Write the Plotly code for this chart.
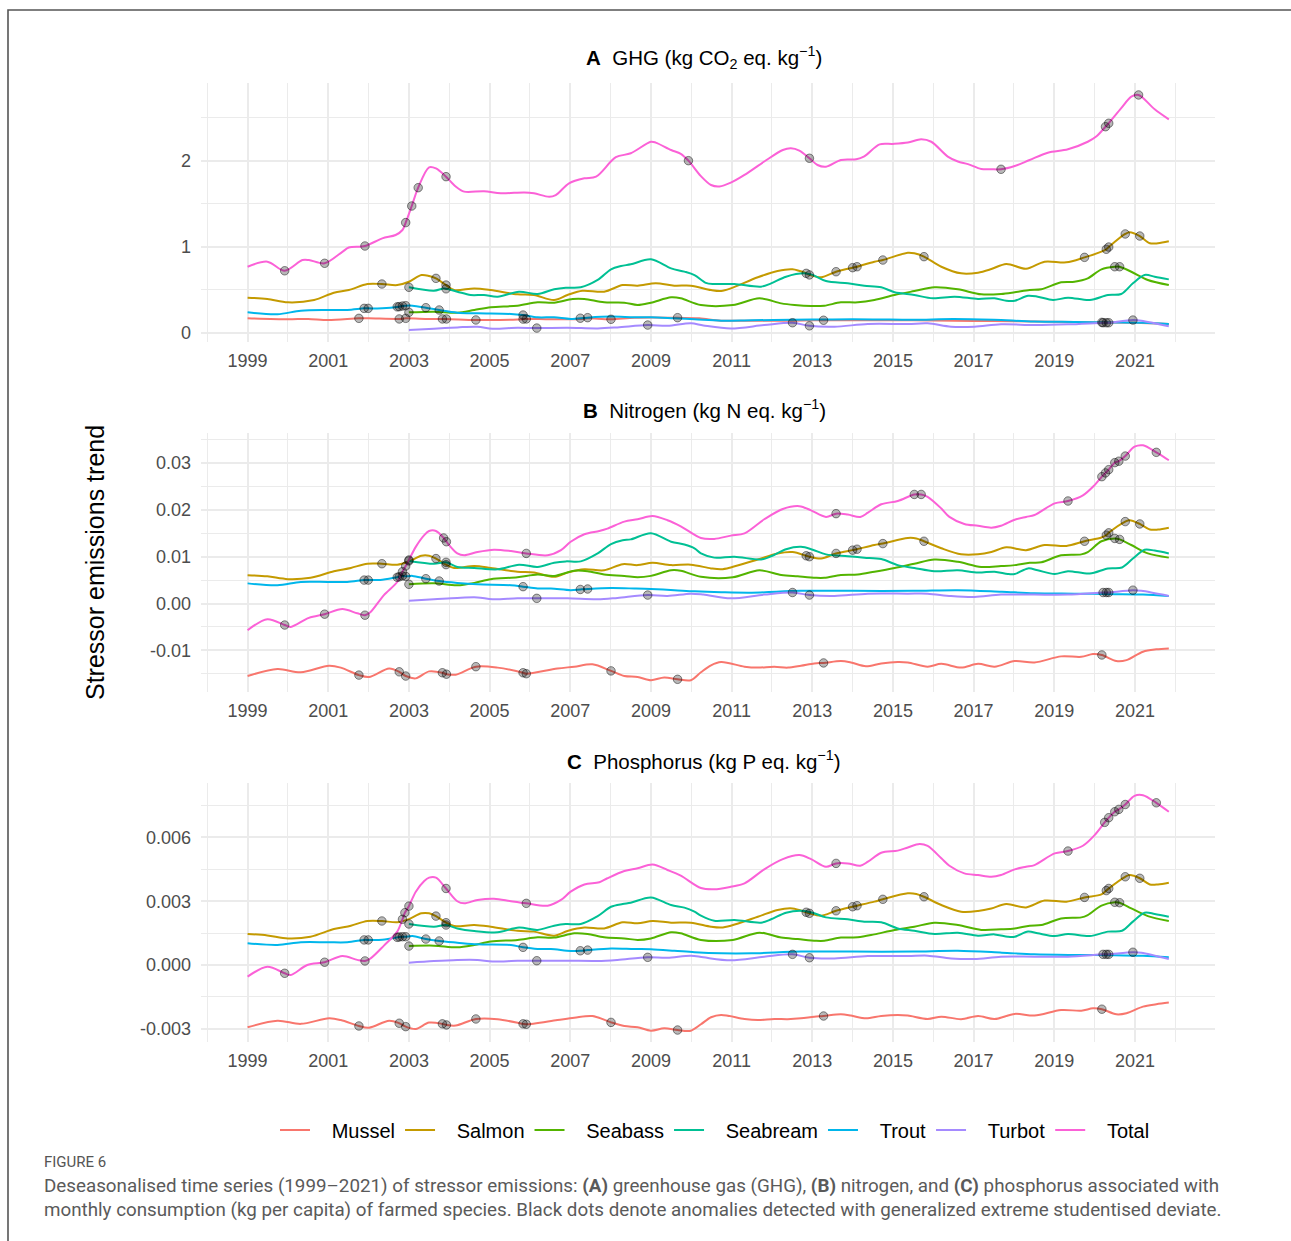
import numpy as np
import plotly.graph_objects as go

# ---------------------------------------------------------------------------
# Series names and ggplot-style hue colours
# ---------------------------------------------------------------------------
SPECIES = ["Mussel", "Salmon", "Seabass", "Seabream", "Trout", "Turbot", "Total"]
COLORS = ["#F8766D", "#C49A00", "#53B400", "#00C094", "#00B6EB", "#A58AFF", "#FB61D7"]

# ---------------------------------------------------------------------------
# A  GHG trend (kg CO2 eq. per kg)
# ---------------------------------------------------------------------------
ghg_mussel_t = [1999.0, 2000.0, 2000.5, 2001.0, 2001.76, 2002.0, 2002.76, 2002.92, 2003.5, 2003.9,
                2004.66, 2005.5, 2005.9, 2006.5, 2007.25, 2007.43, 2008.01, 2008.6, 2009.66, 2010.2,
                2010.74, 2011.5, 2012.5, 2013.28, 2014.5, 2015.5, 2016.5, 2017.5, 2018.5, 2019.5,
                2020.18, 2021.0, 2021.84]
ghg_mussel_v = [0.167, 0.156, 0.16, 0.148, 0.167, 0.167, 0.16, 0.167, 0.16, 0.16,
                0.148, 0.15, 0.16, 0.156, 0.16, 0.167, 0.156, 0.175, 0.175, 0.167,
                0.14, 0.14, 0.14, 0.145, 0.145, 0.145, 0.14, 0.135, 0.13, 0.125,
                0.12, 0.115, 0.10]

ghg_salmon_t = [1999.0, 1999.49, 2000.0, 2000.65, 2001.14, 2001.51, 2001.97, 2002.33, 2002.71, 2003.0,
                2003.31, 2003.5, 2003.67, 2003.92, 2004.12, 2004.62, 2005.03, 2005.69, 2006.10, 2006.60,
                2006.93, 2007.30, 2007.84, 2008.30, 2008.67, 2009.12, 2009.58, 2009.99, 2010.49, 2010.74,
                2010.98, 2011.65, 2012.14, 2012.51, 2012.85, 2012.93, 2013.22, 2013.59, 2014.0, 2014.11,
                2014.54, 2014.75, 2015.37, 2015.53, 2015.77, 2016.20, 2016.69, 2017.11, 2017.44, 2017.81,
                2018.30, 2018.76, 2019.30, 2019.75, 2020.17, 2020.29, 2020.35, 2020.76, 2020.87, 2021.12,
                2021.37, 2021.57, 2021.84]
ghg_salmon_v = [0.407, 0.393, 0.353, 0.38, 0.465, 0.496, 0.566, 0.566, 0.554, 0.593,
                0.671, 0.66, 0.632, 0.554, 0.496, 0.515, 0.496, 0.446, 0.438, 0.38,
                0.438, 0.488, 0.477, 0.554, 0.547, 0.574, 0.547, 0.547, 0.496, 0.485,
                0.515, 0.644, 0.717, 0.737, 0.69, 0.672, 0.644, 0.709, 0.756, 0.767,
                0.826, 0.845, 0.93, 0.923, 0.884, 0.767, 0.69, 0.698, 0.74, 0.80,
                0.744, 0.826, 0.818, 0.876, 0.942, 0.97, 0.996, 1.148, 1.167, 1.124,
                1.04, 1.04, 1.063]

ghg_seabass_t = [2003.0, 2003.62, 2004.20, 2004.62, 2005.03, 2005.69, 2006.19, 2006.60, 2007.06, 2007.35,
                 2007.84, 2008.34, 2008.67, 2009.0, 2009.50, 2009.74, 2010.24, 2011.03, 2011.69, 2012.23,
                 2012.56, 2012.97, 2013.30, 2013.71, 2014.13, 2014.54, 2015.04, 2015.53, 2016.03, 2016.61,
                 2017.19, 2017.68, 2018.02, 2018.39, 2018.68, 2019.17, 2019.50, 2019.83, 2020.17, 2020.50,
                 2020.62, 2020.91, 2021.32, 2021.84]
ghg_seabass_v = [0.237, 0.245, 0.233, 0.264, 0.295, 0.314, 0.353, 0.349, 0.392, 0.392,
                 0.353, 0.349, 0.322, 0.349, 0.411, 0.40, 0.322, 0.322, 0.40, 0.341,
                 0.322, 0.31, 0.314, 0.353, 0.353, 0.38, 0.438, 0.484, 0.528, 0.505,
                 0.446, 0.45, 0.47, 0.496, 0.505, 0.586, 0.593, 0.632, 0.737, 0.767,
                 0.767, 0.709, 0.613, 0.554]

ghg_seabream_t = [2003.0, 2003.62, 2003.88, 2004.20, 2004.53, 2004.86, 2005.20, 2005.73, 2006.19, 2006.60,
                  2006.89, 2007.26, 2007.68, 2008.01, 2008.26, 2008.50, 2009.0, 2009.50, 2009.83, 2010.08,
                  2010.36, 2010.57, 2011.07, 2011.73, 2011.98, 2012.35, 2012.80, 2013.01, 2013.34, 2013.88,
                  2014.29, 2014.71, 2015.04, 2015.53, 2015.99, 2016.53, 2017.11, 2017.52, 2017.81, 2018.02,
                  2018.35, 2018.59, 2018.97, 2019.34, 2019.88, 2020.33, 2020.66, 2020.95, 2021.24, 2021.49,
                  2021.84]
ghg_seabream_v = [0.528, 0.488, 0.515, 0.477, 0.438, 0.438, 0.419, 0.477, 0.45, 0.505,
                  0.523, 0.528, 0.613, 0.737, 0.775, 0.795, 0.853, 0.748, 0.71, 0.67,
                  0.58, 0.566, 0.566, 0.535, 0.574, 0.651, 0.69, 0.672, 0.601, 0.574,
                  0.547, 0.528, 0.47, 0.438, 0.40, 0.419, 0.393, 0.40, 0.372, 0.372,
                  0.43, 0.419, 0.38, 0.407, 0.38, 0.438, 0.45, 0.574, 0.671, 0.651,
                  0.62]

ghg_trout_t = [1999.0, 1999.74, 2000.32, 2000.98, 2001.47, 2001.89, 2001.99, 2002.34, 2002.76, 2002.84,
               2002.92, 2003.09, 2003.42, 2003.75, 2004.2, 2004.7, 2005.53, 2005.82, 2006.19, 2006.6,
               2007.01, 2007.43, 2008.01, 2008.59, 2009.0, 2009.58, 2010.08, 2010.74, 2011.5, 2012.5,
               2013.5, 2014.5, 2015.5, 2016.5, 2017.5, 2018.5, 2019.5, 2020.5, 2021.2, 2021.84]
ghg_trout_v = [0.237, 0.214, 0.256, 0.264, 0.264, 0.283, 0.283, 0.283, 0.303, 0.31,
               0.314, 0.314, 0.291, 0.264, 0.233, 0.225, 0.218, 0.206, 0.179, 0.179,
               0.16, 0.175, 0.187, 0.179, 0.179, 0.167, 0.156, 0.14, 0.145, 0.15,
               0.155, 0.155, 0.15, 0.16, 0.15, 0.13, 0.125, 0.12, 0.115, 0.10]

ghg_turbot_v = [0.031, 0.047, 0.062, 0.07, 0.047, 0.058, 0.054, 0.058, 0.05, 0.062,
                0.089, 0.08, 0.109, 0.085, 0.05, 0.089, 0.116, 0.08, 0.07, 0.101,
                0.101, 0.109, 0.07, 0.07, 0.097, 0.089, 0.097, 0.116, 0.116, 0.116,
                0.147, 0.14, 0.074]

ghg_total_t = [1999.0, 1999.49, 1999.92, 2000.36, 2000.52, 2000.91, 2001.35, 2001.51, 2001.91, 2002.34,
               2002.67, 2002.84, 2002.92, 2003.07, 2003.23, 2003.5, 2003.67, 2003.92, 2004.16, 2004.37,
               2004.86, 2005.28, 2005.86, 2006.1, 2006.48, 2006.64, 2006.97, 2007.35, 2007.64, 2008.13,
               2008.5, 2009.0, 2009.12, 2009.5, 2009.74, 2009.93, 2010.24, 2010.49, 2010.70, 2010.98,
               2011.32, 2011.81, 2012.27, 2012.47, 2012.68, 2012.93, 2013.13, 2013.34, 2013.71, 2014.09,
               2014.29, 2014.67, 2015.0, 2015.37, 2015.70, 2015.95, 2016.36, 2016.61, 2016.86, 2017.19,
               2017.44, 2017.68, 2018.02, 2018.39, 2018.84, 2019.34, 2019.83, 2020.04, 2020.27, 2020.35,
               2020.66, 2020.91, 2021.09, 2021.49, 2021.84]
ghg_total_v = [0.767, 0.826, 0.72, 0.845, 0.845, 0.807, 0.94, 0.99, 1.008, 1.097,
               1.136, 1.194, 1.28, 1.473, 1.686, 1.923, 1.91, 1.814, 1.70, 1.64,
               1.645, 1.621, 1.63, 1.62, 1.58, 1.60, 1.737, 1.795, 1.814, 2.04,
               2.086, 2.22, 2.21, 2.124, 2.08, 2.0, 1.82, 1.717, 1.70, 1.744,
               1.834, 1.99, 2.124, 2.144, 2.117, 2.028, 1.95, 1.93, 2.008, 2.016,
               2.05, 2.19, 2.195, 2.21, 2.248, 2.22, 2.047, 1.99, 1.96, 1.903,
               1.90, 1.90, 1.938, 2.008, 2.093, 2.132, 2.22, 2.28, 2.395, 2.435,
               2.61, 2.744, 2.764, 2.597, 2.48]

# ---------------------------------------------------------------------------
# Shared sampling dates
# ---------------------------------------------------------------------------
mussel_t = [1999.0, 1999.74, 2000.32, 2001.02, 2001.31, 2001.76, 2002.01, 2002.51, 2002.76, 2002.92,
            2003.17, 2003.50, 2003.83, 2003.93, 2004.16, 2004.66, 2005.20, 2005.83, 2005.91, 2006.68,
            2007.10, 2007.55, 2008.01, 2008.34, 2008.67, 2009.0, 2009.33, 2009.66, 2009.99, 2010.24,
            2010.49, 2010.74, 2011.32, 2011.65, 2012.06, 2012.39, 2012.72, 2013.05, 2013.28, 2013.71,
            2013.96, 2014.33, 2014.71, 2015.12, 2015.37, 2015.86, 2016.20, 2016.69, 2017.11, 2017.52,
            2018.02, 2018.51, 2019.17, 2019.67, 2019.96, 2020.18, 2020.54, 2020.79, 2021.20, 2021.53,
            2021.84]
salmon_t = [1999.0, 1999.49, 2000.0, 2000.56, 2001.14, 2001.56, 2001.97, 2002.33, 2002.71, 2003.0,
            2003.31, 2003.50, 2003.67, 2003.92, 2004.12, 2004.62, 2005.03, 2005.69, 2006.10, 2006.60,
            2006.93, 2007.35, 2007.84, 2008.30, 2008.67, 2009.04, 2009.50, 2009.99, 2010.49, 2010.74,
            2010.98, 2011.65, 2012.14, 2012.51, 2012.85, 2012.93, 2013.22, 2013.59, 2014.0, 2014.11,
            2014.54, 2014.75, 2015.37, 2015.58, 2015.77, 2016.20, 2016.69, 2017.11, 2017.44, 2017.81,
            2018.30, 2018.76, 2019.30, 2019.75, 2020.17, 2020.29, 2020.35, 2020.76, 2020.87, 2021.12,
            2021.37, 2021.57, 2021.84]
seabass_t = [2003.0, 2003.62, 2004.20, 2004.62, 2005.03, 2005.69, 2006.19, 2006.60, 2007.10, 2007.43,
             2007.84, 2008.34, 2008.67, 2009.0, 2009.50, 2009.74, 2010.24, 2011.03, 2011.69, 2012.23,
             2012.64, 2013.09, 2013.30, 2013.71, 2014.13, 2014.54, 2015.04, 2015.53, 2016.03, 2016.61,
             2017.19, 2017.68, 2018.02, 2018.39, 2018.68, 2019.17, 2019.67, 2019.83, 2020.17, 2020.50,
             2020.62, 2020.91, 2021.32, 2021.84]
seabream_t = [2003.0, 2003.62, 2003.92, 2004.20, 2004.62, 2005.20, 2005.73, 2006.19, 2006.60, 2006.89,
              2007.26, 2007.68, 2008.01, 2008.30, 2008.50, 2009.0, 2009.50, 2009.83, 2010.08, 2010.24,
              2010.57, 2011.07, 2011.73, 2011.98, 2012.35, 2012.72, 2013.01, 2013.34, 2013.88, 2014.29,
              2014.71, 2015.12, 2015.53, 2016.03, 2016.61, 2017.11, 2017.52, 2017.85, 2018.02, 2018.35,
              2018.59, 2019.01, 2019.34, 2019.88, 2020.33, 2020.68, 2020.95, 2021.24, 2021.49, 2021.84]
trout_t = [1999.0, 1999.74, 2000.32, 2000.98, 2001.47, 2001.89, 2001.99, 2002.34, 2002.71, 2002.76,
           2002.84, 2002.92, 2003.09, 2003.42, 2003.75, 2004.20, 2004.70, 2005.53, 2005.83, 2006.19,
           2006.52, 2007.01, 2007.25, 2007.43, 2008.01, 2008.59, 2009.0, 2009.58, 2010.08, 2010.74,
           2011.5, 2012.72, 2014.0, 2015.5, 2016.61, 2017.7, 2018.5, 2019.5, 2020.5, 2021.2,
           2021.84]
turbot_t = [2003.0, 2003.62, 2004.20, 2004.70, 2005.07, 2005.69, 2006.17, 2006.93, 2007.68, 2008.17,
            2008.92, 2009.41, 2009.99, 2010.30, 2010.98, 2011.81, 2012.51, 2012.93, 2013.55, 2014.38,
            2015.37, 2015.86, 2016.44, 2017.02, 2017.68, 2018.51, 2019.34, 2020.21, 2020.29, 2020.35,
            2020.95, 2021.16, 2021.84]

# Panels B and C values are listed in thousandths (g eq. per kg)
MILLI = 1e-3

# ---------------------------------------------------------------------------
# B  Nitrogen trend (kg N eq. per kg), in thousandths
# ---------------------------------------------------------------------------
nit_mussel_v = [-15.5, -14.0, -14.7, -13.3, -13.7, -15.3, -15.7, -13.9, -14.6, -15.5,
                -16.0, -14.5, -14.8, -15.1, -15.2, -13.5, -13.7, -14.8, -15.0, -13.9,
                -13.5, -13.0, -14.4, -15.5, -15.7, -16.4, -15.8, -16.2, -16.4, -14.7,
                -13.2, -12.5, -13.5, -13.7, -13.5, -13.7, -13.3, -12.8, -12.7, -12.3,
                -12.6, -13.4, -12.8, -12.5, -12.6, -13.5, -12.9, -13.7, -12.9, -13.5,
                -12.3, -12.6, -11.3, -11.4, -10.8, -11.0, -12.3, -12.1, -10.3, -9.8,
                -9.6]
nit_salmon_v = [6.05, 5.8, 5.2, 5.5, 6.9, 7.6, 8.5, 8.5, 8.3, 9.0,
                10.2, 10.2, 9.6, 8.3, 7.6, 8.0, 7.6, 6.8, 6.6, 5.7,
                6.6, 7.3, 7.1, 8.4, 8.2, 8.7, 8.2, 8.3, 7.5, 7.3,
                7.7, 9.4, 10.7, 11.0, 10.2, 10.0, 9.6, 10.7, 11.4, 11.6,
                12.5, 12.8, 14.0, 13.9, 13.3, 11.8, 10.5, 10.5, 11.0, 12.0,
                11.4, 12.5, 12.3, 13.3, 14.1, 14.6, 15.1, 17.5, 17.8, 17.0,
                15.8, 15.8, 16.2]
nit_seabass_v = [4.1, 4.3, 3.9, 4.4, 5.2, 5.6, 6.2, 5.9, 7.0, 6.9,
                 6.2, 5.9, 5.6, 5.9, 7.1, 7.0, 5.7, 5.6, 7.1, 6.1,
                 5.8, 5.5, 5.5, 6.1, 6.2, 6.8, 7.6, 8.5, 9.4, 8.9,
                 7.8, 8.0, 8.2, 8.7, 8.8, 10.3, 10.5, 11.0, 13.3, 13.9,
                 13.7, 12.5, 10.7, 9.8]
nit_seabream_v = [9.1, 8.5, 8.8, 7.8, 7.6, 7.3, 8.3, 7.8, 8.7, 9.0,
                  9.0, 10.7, 12.7, 13.5, 13.7, 15.0, 13.2, 12.6, 11.8, 10.7,
                  9.8, 10.0, 9.4, 10.1, 11.6, 12.1, 11.5, 10.5, 10.1, 9.8,
                  9.5, 8.2, 7.6, 6.9, 7.1, 6.6, 6.8, 6.3, 6.3, 7.5,
                  7.1, 6.3, 6.9, 6.4, 7.5, 7.7, 9.6, 11.5, 11.3, 10.7]
nit_trout_v = [4.3, 3.9, 4.6, 4.6, 4.6, 5.0, 5.0, 5.1, 5.6, 5.7,
               5.9, 5.8, 5.9, 5.3, 4.8, 4.4, 4.1, 3.9, 3.6, 3.2,
               3.2, 2.85, 3.0, 3.1, 3.3, 3.2, 3.1, 2.85, 2.6, 2.4,
               2.3, 2.7, 2.7, 2.7, 2.85, 2.5, 2.2, 2.1, 2.0, 1.9,
               1.6]
nit_turbot_v = [0.6, 0.9, 1.2, 1.3, 0.9, 1.1, 1.1, 1.1, 0.9, 1.2,
                1.8, 1.6, 2.1, 1.9, 1.1, 1.9, 2.35, 1.8, 1.6, 2.1,
                2.1, 2.1, 1.6, 1.4, 1.9, 1.9, 1.9, 2.35, 2.35, 2.35,
                2.85, 2.7, 1.6]
nit_total_t = [1999.0, 1999.49, 1999.92, 2000.07, 2000.52, 2000.91, 2001.35, 2001.72, 2001.91, 2002.05,
               2002.38, 2002.71, 2002.84, 2002.92, 2003.0, 2003.17, 2003.38, 2003.50, 2003.67, 2003.86,
               2003.93, 2004.20, 2004.37, 2004.70, 2005.11, 2005.53, 2005.91, 2006.44, 2006.77, 2007.01,
               2007.35, 2007.72, 2007.92, 2008.34, 2008.67, 2009.04, 2009.41, 2009.74, 2010.24, 2010.57,
               2010.98, 2011.32, 2011.81, 2012.27, 2012.68, 2012.97, 2013.34, 2013.59, 2013.88, 2014.19,
               2014.38, 2014.71, 2015.12, 2015.53, 2015.70, 2015.86, 2016.20, 2016.40, 2016.77, 2017.11,
               2017.44, 2017.68, 2018.02, 2018.30, 2018.51, 2019.01, 2019.34, 2019.71, 2020.0, 2020.18,
               2020.27, 2020.35, 2020.50, 2020.60, 2020.76, 2020.99, 2021.20, 2021.53, 2021.84]
nit_total_v = [-5.7, -3.35, -4.6, -5.0, -3.06, -2.28, -1.2, -2.1, -2.5, -1.8,
               1.8, 4.6, 6.8, 8.0, 9.3, 12.1, 14.6, 15.5, 15.5, 14.0,
               13.2, 10.7, 10.3, 11.0, 11.5, 11.2, 10.7, 10.3, 11.4, 13.2,
               14.8, 15.5, 16.0, 17.5, 18.0, 18.7, 17.8, 16.5, 14.0, 13.8,
               14.5, 15.0, 18.0, 20.2, 20.8, 19.9, 18.5, 19.2, 19.0, 18.5,
               19.4, 21.2, 21.9, 23.3, 23.3, 22.8, 20.3, 18.5, 17.0, 16.6,
               16.2, 16.6, 17.9, 18.5, 18.9, 21.4, 21.9, 23.1, 25.3, 27.1,
               27.9, 28.6, 30.1, 30.4, 31.5, 33.5, 33.8, 32.3, 30.6]

# ---------------------------------------------------------------------------
# C  Phosphorus trend (kg P eq. per kg), in thousandths
# ---------------------------------------------------------------------------
pho_mussel_v = [-2.93, -2.62, -2.77, -2.51, -2.59, -2.87, -2.95, -2.62, -2.74, -2.9,
                -3.01, -2.71, -2.77, -2.82, -2.85, -2.54, -2.55, -2.77, -2.79, -2.59,
                -2.48, -2.4, -2.7, -2.87, -2.93, -3.09, -2.98, -3.06, -3.09, -2.79,
                -2.46, -2.35, -2.54, -2.59, -2.54, -2.55, -2.51, -2.43, -2.4, -2.32,
                -2.38, -2.51, -2.4, -2.35, -2.38, -2.54, -2.43, -2.55, -2.4, -2.54,
                -2.3, -2.38, -2.12, -2.15, -2.04, -2.08, -2.32, -2.27, -1.96, -1.85,
                -1.77]
pho_salmon_v = [1.46, 1.39, 1.25, 1.33, 1.69, 1.85, 2.07, 2.07, 2.01, 2.16,
                2.43, 2.43, 2.3, 1.99, 1.83, 1.88, 1.8, 1.61, 1.57, 1.38,
                1.6, 1.76, 1.72, 2.01, 1.96, 2.07, 1.99, 1.99, 1.8, 1.76,
                1.85, 2.27, 2.59, 2.66, 2.48, 2.43, 2.32, 2.55, 2.74, 2.79,
                2.98, 3.09, 3.37, 3.34, 3.21, 2.82, 2.51, 2.54, 2.66, 2.87,
                2.71, 3.03, 2.98, 3.18, 3.32, 3.5, 3.6, 4.15, 4.23, 4.08,
                3.79, 3.79, 3.87]
pho_seabass_v = [0.89, 0.91, 0.83, 0.94, 1.1, 1.18, 1.3, 1.29, 1.49, 1.46,
                 1.3, 1.25, 1.18, 1.25, 1.54, 1.49, 1.18, 1.18, 1.52, 1.29,
                 1.22, 1.14, 1.14, 1.29, 1.3, 1.44, 1.65, 1.8, 1.99, 1.88,
                 1.65, 1.68, 1.72, 1.85, 1.88, 2.19, 2.24, 2.35, 2.79, 2.95,
                 2.93, 2.66, 2.3, 2.07]
pho_seabream_v = [1.93, 1.8, 1.88, 1.72, 1.6, 1.54, 1.76, 1.65, 1.85, 1.93,
                  1.93, 2.3, 2.74, 2.87, 2.93, 3.18, 2.82, 2.7, 2.51, 2.32,
                  2.08, 2.12, 1.99, 2.15, 2.46, 2.55, 2.46, 2.24, 2.15, 2.04,
                  2.01, 1.72, 1.61, 1.46, 1.52, 1.38, 1.44, 1.33, 1.33, 1.57,
                  1.49, 1.36, 1.46, 1.36, 1.57, 1.61, 2.04, 2.46, 2.4, 2.27]
pho_trout_v = [1.02, 0.94, 1.07, 1.07, 1.07, 1.18, 1.18, 1.19, 1.3, 1.32,
               1.33, 1.33, 1.36, 1.22, 1.13, 1.05, 0.97, 0.94, 0.83, 0.75,
               0.75, 0.66, 0.67, 0.7, 0.78, 0.75, 0.74, 0.67, 0.6, 0.55,
               0.55, 0.63, 0.63, 0.63, 0.67, 0.58, 0.5, 0.47, 0.46, 0.43,
               0.36]
pho_turbot_v = [0.11, 0.19, 0.24, 0.24, 0.16, 0.2, 0.2, 0.2, 0.19, 0.24,
                0.36, 0.34, 0.44, 0.36, 0.22, 0.39, 0.5, 0.34, 0.31, 0.42,
                0.42, 0.44, 0.31, 0.28, 0.39, 0.39, 0.39, 0.5, 0.5, 0.5,
                0.6, 0.58, 0.28]
pho_total_t = [1999.0, 1999.49, 1999.92, 2000.07, 2000.48, 2000.91, 2001.35, 2001.72, 2001.91, 2002.05,
               2002.38, 2002.71, 2002.84, 2002.90, 2003.0, 2003.17, 2003.38, 2003.50, 2003.67, 2003.92,
               2004.20, 2004.37, 2004.70, 2005.11, 2005.53, 2005.91, 2006.44, 2006.77, 2007.01, 2007.35,
               2007.72, 2007.92, 2008.34, 2008.67, 2009.04, 2009.41, 2009.74, 2010.24, 2010.57, 2010.98,
               2011.32, 2011.81, 2012.27, 2012.68, 2012.97, 2013.34, 2013.59, 2013.88, 2014.19, 2014.38,
               2014.71, 2015.12, 2015.37, 2015.66, 2015.86, 2016.20, 2016.40, 2016.77, 2017.11, 2017.44,
               2017.68, 2018.02, 2018.30, 2018.51, 2019.01, 2019.34, 2019.71, 2020.0, 2020.25, 2020.35,
               2020.50, 2020.60, 2020.76, 2020.99, 2021.20, 2021.53, 2021.84]
pho_total_v = [-0.55, -0.08, -0.39, -0.47, 0.0, 0.13, 0.42, 0.24, 0.19, 0.31,
               0.91, 1.57, 2.15, 2.46, 2.77, 3.45, 3.95, 4.11, 4.11, 3.6,
               3.0, 2.9, 3.06, 3.12, 3.0, 2.9, 2.79, 3.06, 3.45, 3.79,
               3.89, 4.08, 4.42, 4.55, 4.73, 4.47, 4.2, 3.62, 3.56, 3.68,
               3.84, 4.5, 4.98, 5.17, 4.98, 4.62, 4.78, 4.78, 4.67, 4.86,
               5.28, 5.38, 5.53, 5.69, 5.6, 5.02, 4.67, 4.31, 4.23, 4.15,
               4.23, 4.5, 4.62, 4.7, 5.25, 5.36, 5.61, 6.11, 6.71, 6.93,
               7.21, 7.32, 7.55, 7.96, 7.99, 7.63, 7.21]

# ---------------------------------------------------------------------------
# Anomaly dates (generalized ESD), per species; Total differs per stressor
# ---------------------------------------------------------------------------
anom_mussel = [2001.76, 2002.76, 2002.92, 2003.83, 2003.93, 2004.66, 2005.83, 2005.91, 2008.01, 2009.66,
               2013.28, 2020.18]
anom_salmon = [2002.33, 2003.67, 2003.92, 2012.85, 2012.93, 2013.59, 2014.0, 2014.11, 2014.75, 2015.77,
               2019.75, 2020.29, 2020.35, 2020.76, 2021.12]
anom_seabass = [2003.0, 2020.50, 2020.62]
anom_seabream = [2003.0, 2003.92]
anom_trout = [2001.89, 2001.99, 2002.71, 2002.76, 2002.84, 2002.92, 2003.42, 2003.75, 2005.83, 2007.25,
              2007.43]
anom_turbot = [2006.17, 2008.92, 2012.51, 2012.93, 2020.21, 2020.29, 2020.35, 2020.95]
ghg_anom_total = [1999.92, 2000.91, 2001.91, 2002.92, 2003.07, 2003.23, 2003.92, 2009.93, 2012.93, 2017.68,
                  2020.27, 2020.35, 2021.09]
nit_anom_total = [1999.92, 2000.91, 2001.91, 2002.84, 2002.92, 2003.0, 2003.86, 2003.93, 2005.91, 2013.59,
                  2015.53, 2015.70, 2019.34, 2020.18, 2020.27, 2020.35, 2020.50, 2020.60, 2020.76, 2021.53]
pho_anom_total = [1999.92, 2000.91, 2001.91, 2002.84, 2002.90, 2003.0, 2003.92, 2005.91, 2013.59, 2019.34,
                  2020.25, 2020.35, 2020.50, 2020.60, 2020.76, 2021.53]

# ---------------------------------------------------------------------------
# Assemble panels
# ---------------------------------------------------------------------------
def milli(vals):
    return [v * MILLI for v in vals]

panels = [
    {
        "series": [(ghg_mussel_t, ghg_mussel_v), (ghg_salmon_t, ghg_salmon_v),
                   (ghg_seabass_t, ghg_seabass_v), (ghg_seabream_t, ghg_seabream_v),
                   (ghg_trout_t, ghg_trout_v), (turbot_t, ghg_turbot_v),
                   (ghg_total_t, ghg_total_v)],
        "total_anom": ghg_anom_total,
    },
    {
        "series": [(mussel_t, milli(nit_mussel_v)), (salmon_t, milli(nit_salmon_v)),
                   (seabass_t, milli(nit_seabass_v)), (seabream_t, milli(nit_seabream_v)),
                   (trout_t, milli(nit_trout_v)), (turbot_t, milli(nit_turbot_v)),
                   (nit_total_t, milli(nit_total_v))],
        "total_anom": nit_anom_total,
    },
    {
        "series": [(mussel_t, milli(pho_mussel_v)), (salmon_t, milli(pho_salmon_v)),
                   (seabass_t, milli(pho_seabass_v)), (seabream_t, milli(pho_seabream_v)),
                   (trout_t, milli(pho_trout_v)), (turbot_t, milli(pho_turbot_v)),
                   (pho_total_t, milli(pho_total_v))],
        "total_anom": pho_anom_total,
    },
]
species_anom = [anom_mussel, anom_salmon, anom_seabass, anom_seabream, anom_trout, anom_turbot]

for p in panels:
    for t, v in p["series"]:
        assert len(t) == len(v), (len(t), len(v))

# ---------------------------------------------------------------------------
# Figure
# ---------------------------------------------------------------------------
W, H = 1291, 1241
FONT = "Liberation Sans, Arial, Helvetica, sans-serif"
TICK_COLOR = "#4D4D4D"
GRID = "#EBEBEB"
KEY_PAD = "\u00a0\u00a0\u00a0"   # space between legend key line and its label

fig = go.Figure()

for i, p in enumerate(panels):
    suffix = "" if i == 0 else str(i + 1)
    xa, ya = "x" + suffix, "y" + suffix
    for k, (name, color) in enumerate(zip(SPECIES, COLORS)):
        t, v = p["series"][k]
        fig.add_trace(go.Scatter(
            x=t, y=v, mode="lines", name=KEY_PAD + name, legendgroup=name, showlegend=(i == 0),
            line=dict(color=color, width=2, shape="spline", smoothing=0.9),
            xaxis=xa, yaxis=ya, hoverinfo="skip",
        ))
    # anomaly markers sit on their series
    ax, ay = [], []
    anoms = species_anom + [p["total_anom"]]
    for k in range(len(SPECIES)):
        t, v = p["series"][k]
        dates = anoms[k]
        ax.extend(dates)
        ay.extend(np.interp(dates, t, v).tolist())
    fig.add_trace(go.Scatter(
        x=ax, y=ay, mode="markers", showlegend=False, xaxis=xa, yaxis=ya,
        marker=dict(size=8.5, color="rgba(0,0,0,0.28)",
                    line=dict(color="rgba(0,0,0,0.45)", width=1)),
        hoverinfo="skip",
    ))

# Axis geometry (pixels measured from the top-left of the page)
PLOT_LEFT, PLOT_RIGHT = 201, 1215
panel_px = [(83, 342), (433, 692), (783, 1042)]
y_ranges = [[-0.108, 2.903], [-0.01891, 0.03643], [-0.003623, 0.008562]]
y_ticks = [([0, 1, 2], ["0", "1", "2"], [0.5, 1.5, 2.5]),
           ([-0.01, 0.0, 0.01, 0.02, 0.03], ["-0.01", "0.00", "0.01", "0.02", "0.03"],
            [-0.015, -0.005, 0.005, 0.015, 0.025, 0.035]),
           ([-0.003, 0.0, 0.003, 0.006], ["-0.003", "0.000", "0.003", "0.006"],
            [-0.0015, 0.0015, 0.0045, 0.0075])]
x_major = list(range(1999, 2022, 2))
x_minor = list(range(1998, 2023, 2))

layout_axes = {}
for i in range(3):
    suffix = "" if i == 0 else str(i + 1)
    top, bot = panel_px[i]
    tv, tt, mv = y_ticks[i]
    layout_axes["xaxis" + suffix] = dict(
        domain=[PLOT_LEFT / W, PLOT_RIGHT / W], anchor="y" + suffix,
        range=[1997.845, 2022.985], tickvals=x_major, ticktext=[str(y) for y in x_major],
        showgrid=True, gridcolor=GRID, gridwidth=1.6, zeroline=False, showline=False,
        ticks="", ticklabelstandoff=6,
        tickfont=dict(family=FONT, size=18, color=TICK_COLOR),
        minor=dict(tickvals=x_minor, showgrid=True, gridcolor=GRID, gridwidth=0.8, ticks=""),
    )
    layout_axes["yaxis" + suffix] = dict(
        domain=[1 - bot / H, 1 - top / H], anchor="x" + suffix,
        range=y_ranges[i], tickvals=tv, ticktext=tt,
        showgrid=True, gridcolor=GRID, gridwidth=1.6, zeroline=False, showline=False,
        ticks="", ticklabelstandoff=9,
        tickfont=dict(family=FONT, size=18, color=TICK_COLOR),
        minor=dict(tickvals=mv, showgrid=True, gridcolor=GRID, gridwidth=0.8, ticks=""),
    )

titles = [
    ("<b>A</b>  GHG (kg CO<sub>2</sub> eq. kg<sup>\u22121</sup>)", 58),
    ("<b>B</b>  Nitrogen (kg N eq. kg<sup>\u22121</sup>)", 409),
    ("<b>C</b>  Phosphorus (kg P eq. kg<sup>\u22121</sup>)", 760),
]
annotations = []
for text, ypx in titles:
    annotations.append(dict(
        text=text, x=704 / W, y=1 - ypx / H, xref="paper", yref="paper",
        xanchor="center", yanchor="middle", showarrow=False,
        font=dict(family=FONT, size=20.5, color="black"),
    ))
annotations.append(dict(
    text="Stressor emissions trend", x=95 / W, y=1 - 562 / H, xref="paper", yref="paper",
    xanchor="center", yanchor="middle", textangle=-90, showarrow=False,
    font=dict(family=FONT, size=25, color="black"),
))
CAP_FONT = "Roboto, Liberation Sans, sans-serif"
annotations.append(dict(
    text="FIGURE 6", x=42 / W, y=1 - 1162 / H, xref="paper", yref="paper",
    xanchor="left", yanchor="middle", showarrow=False,
    font=dict(family=CAP_FONT, size=15, color="#555555"),
))
annotations.append(dict(
    text=("Deseasonalised time series (1999\u20132021) of stressor emissions: <b>(A)</b> greenhouse gas (GHG), "
          "<b>(B)</b> nitrogen, and <b>(C)</b> phosphorus associated with"),
    x=42 / W, y=1 - 1186 / H, xref="paper", yref="paper",
    xanchor="left", yanchor="middle", showarrow=False,
    font=dict(family=CAP_FONT, size=18.8, color="#5A5A5A"),
))
annotations.append(dict(
    text=("monthly consumption (kg per capita) of farmed species. Black dots denote anomalies detected "
          "with generalized extreme studentised deviate."),
    x=42 / W, y=1 - 1210 / H, xref="paper", yref="paper",
    xanchor="left", yanchor="middle", showarrow=False,
    font=dict(family=CAP_FONT, size=18.8, color="#5A5A5A"),
))

fig.update_layout(
    width=W, height=H, autosize=False,
    margin=dict(l=0, r=0, t=0, b=0, pad=0),
    paper_bgcolor="white", plot_bgcolor="white",
    font=dict(family=FONT, color="black"),
    showlegend=True,
    legend=dict(
        orientation="h", x=715 / W, xanchor="center", y=1 - 1130 / H, yanchor="middle",
        font=dict(family=FONT, size=20, color="black"), bgcolor="rgba(0,0,0,0)",
        itemwidth=30, tracegroupgap=0,
    ),
    annotations=annotations,
    shapes=[dict(
        type="rect", xref="paper", yref="paper",
        x0=8 / W, x1=1.02, y0=-0.02, y1=1 - 10 / H,
        line=dict(color="#555555", width=1.6), fillcolor="rgba(0,0,0,0)", layer="above",
    )],
    **layout_axes,
)

fig.write_html("out.html")
